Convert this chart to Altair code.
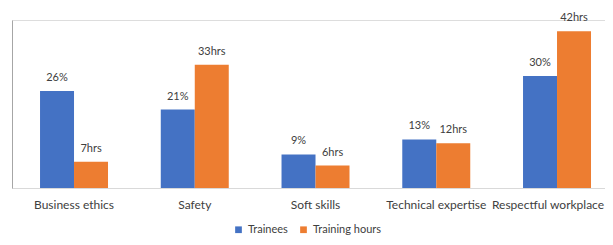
import altair as alt
import pandas as pd

categories = ["Business ethics", "Safety", "Soft skills", "Technical expertise", "Respectful workplace"]
trainees = [26, 21, 9, 13, 30]
trainee_labels = ["26%", "21%", "9%", "13%", "30%"]
hours = [7, 33, 6, 12, 42]
hour_labels = ["7hrs", "33hrs", "6hrs", "12hrs", "42hrs"]
series = ["Trainees", "Training hours"]
colors = ["#4472C4", "#ED7D31"]

rows = []
for c, v, l in zip(categories, trainees, trainee_labels):
    rows.append({"category": c, "series": series[0], "value": v, "label": l})
for c, v, l in zip(categories, hours, hour_labels):
    rows.append({"category": c, "series": series[1], "value": v, "label": l})
df = pd.DataFrame(rows)

FONT = "Lato"

x = alt.X("category:N", sort=categories, title=None,
          scale=alt.Scale(paddingInner=0.437, paddingOuter=0.174, align=0.667),
          axis=alt.Axis(labelAngle=0, ticks=False, labelPadding=11, labelFontSize=12,
                        labelColor="#404040", labelFont=FONT, domainColor="#d9d9d9",
                        labelOffset={"condition": {"test": "datum.value == 'Respectful workplace'",
                                                   "value": -9}, "value": 0}))
xo = alt.XOffset("series:N", sort=series, scale=alt.Scale(paddingInner=0))
y = alt.Y("value:Q", title=None, scale=alt.Scale(domain=[0, 45], nice=False),
          axis=alt.Axis(labels=False, ticks=False, grid=False, domainColor="#a6a6a6"))

bars = alt.Chart(df).mark_bar().encode(
    x=x, xOffset=xo, y=y,
    color=alt.Color("series:N", sort=series, title=None,
                    scale=alt.Scale(domain=series, range=colors),
                    legend=alt.Legend(orient="none", legendX=221, legendY=204, direction="horizontal",
                                      symbolType="square", symbolSize=45, labelFontSize=11,
                                      labelFont=FONT, labelColor="#404040", columnPadding=10,
                                      symbolStrokeWidth=0)),
)

text = alt.Chart(df).mark_text(dy=-13, fontSize=11, font=FONT, color="#404040").encode(
    x=alt.X("category:N", sort=categories), xOffset=xo, y=y, text="label:N"
)

chart = alt.layer(bars, text).properties(
    width=593, height=168,
    autosize=alt.AutoSizeParams(type="none"),
    padding={"left": 4, "top": 12, "right": 0, "bottom": 49},
).configure_view(stroke=None).configure(background="white")

chart.save("out.html", embed_options={"renderer": "svg", "actions": False})
